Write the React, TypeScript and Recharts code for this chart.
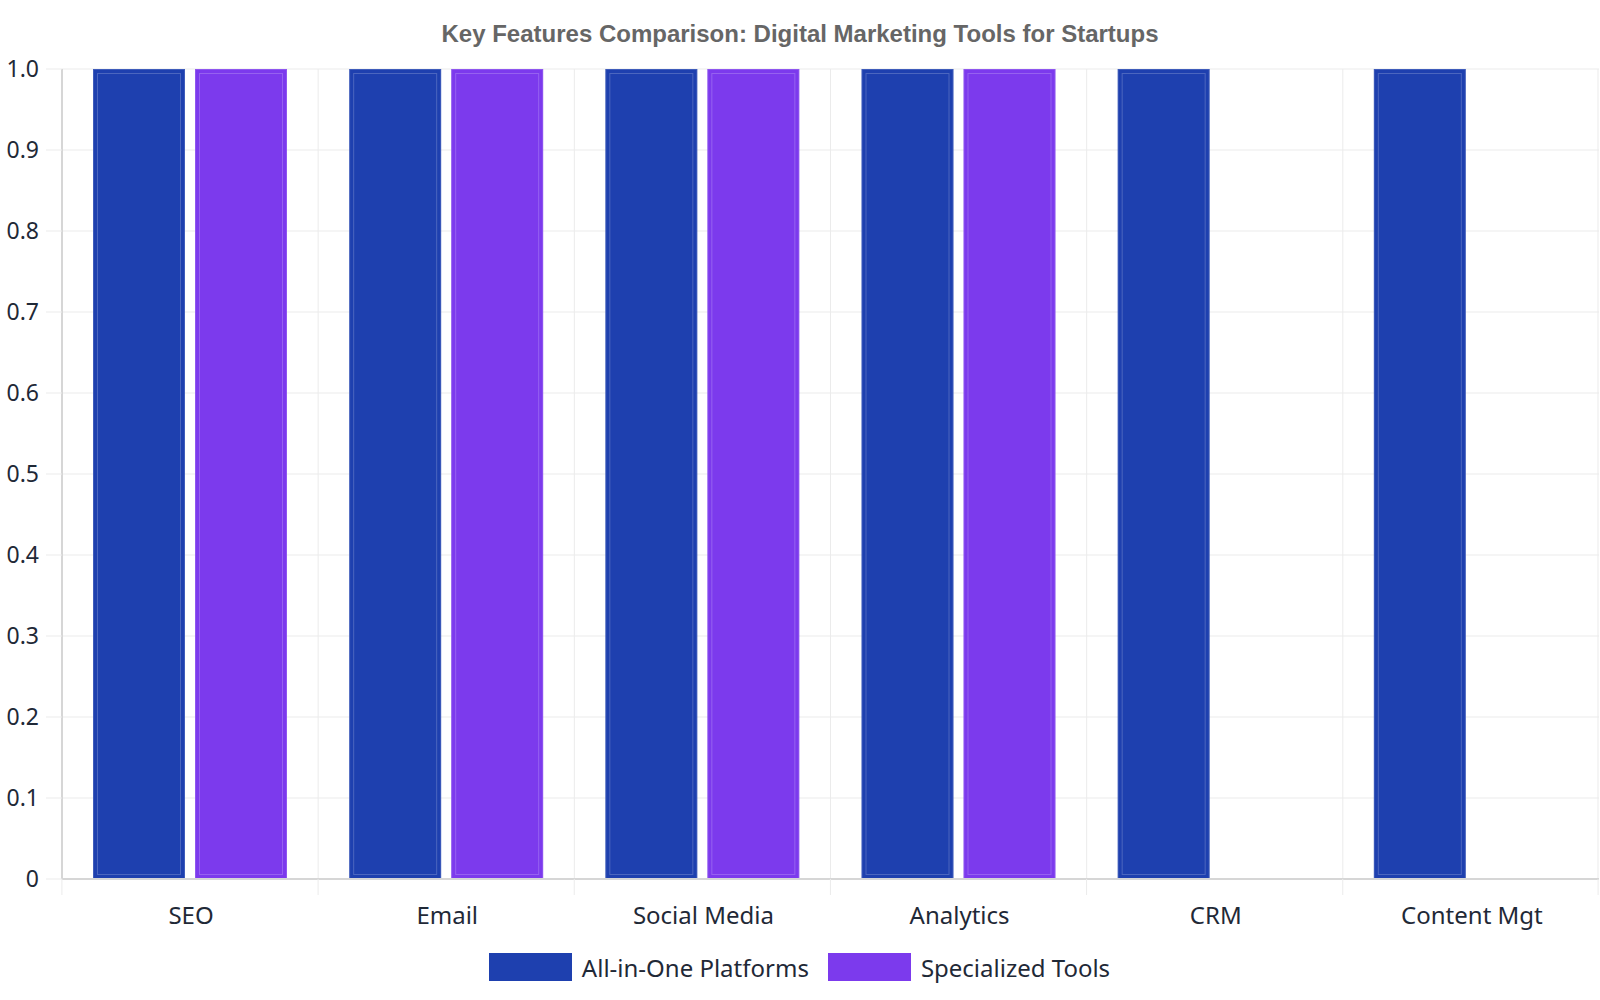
import React from "react";
import {
  BarChart, Bar, XAxis, YAxis, CartesianGrid, Legend
} from "recharts";

const CATEGORIES = ["SEO", "Email", "Social Media", "Analytics", "CRM", "Content Mgt"];
const ALL_IN_ONE = [1, 1, 1, 1, 1, 1];
const SPECIALIZED = [1, 1, 1, 1, 0, 0];
const Y_TICKS = [0, 0.1, 0.2, 0.3, 0.4, 0.5, 0.6, 0.7, 0.8, 0.9, 1.0];

const SERIES = [
  { key: "allInOne", label: "All-in-One Platforms", color: "#1e40af" },
  { key: "specialized", label: "Specialized Tools", color: "#7c3aed" },
];

const data = CATEGORIES.map((name, i) => ({
  name,
  allInOne: ALL_IN_ONE[i],
  specialized: SPECIALIZED[i],
}));

const FONT = "'Noto Sans', sans-serif";
const TEXT = "#1f2937";
const GRID = "#ebebeb";
const AXIS = "#d6d6d6";
const TICK_SIZE = 16;
const X_TICK_MARGIN = 12;

// bar with a faint inset outline
const BarShape = (props: any) => {
  const { x, y, width, height, fill } = props;
  if (!height || height <= 0) return null;
  return (
    <g>
      <rect x={x} y={y} width={width} height={height} fill={fill} />
      <rect
        x={x + 0.5} y={y + 0.5} width={width - 1} height={height - 1}
        fill="none" stroke="rgba(255,255,255,0.15)" strokeWidth={1}
      />
      <rect
        x={x + 4.5} y={y + 4.5} width={width - 9} height={height - 9}
        fill="none" stroke="rgba(255,255,255,0.2)" strokeWidth={1}
      />
    </g>
  );
};

const XTick = (props: any) => {
  const { x, y, payload, index } = props;
  const band = 1538 / CATEGORIES.length;
  const axisY = y - X_TICK_MARGIN - TICK_SIZE;
  const left = x - band / 2;
  const right = x + band / 2;
  return (
    <g>
      <line x1={left} x2={left} y1={axisY} y2={axisY + TICK_SIZE} stroke={GRID} />
      {index === CATEGORIES.length - 1 && (
        <line x1={right - 1} x2={right - 1} y1={axisY} y2={axisY + TICK_SIZE} stroke={GRID} />
      )}
      <text x={x + 1} y={y} dy="0.71em" textAnchor="middle" fill={TEXT}
        style={{ fontFamily: FONT, fontSize: 24 }}>
        {payload.value}
      </text>
    </g>
  );
};

const LegendContent = () => (
  <div style={{ display: "flex", justifyContent: "center", alignItems: "center", height: 40 }}>
    {SERIES.map((s, i) => (
      <div key={s.key} style={{ display: "flex", alignItems: "center", marginLeft: i ? 19 : 0 }}>
        <div style={{ width: 83, height: 28, background: s.color }} />
        <span style={{ marginLeft: 10, fontFamily: FONT, fontSize: 24, color: TEXT }}>
          {s.label}
        </span>
      </div>
    ))}
  </div>
);

export default function App() {
  return (
    <div style={{ position: "relative", width: 1600, height: 1000, background: "#fff" }}>
      <style>{"body{margin:0}"}</style>
      <div
        style={{
          position: "absolute", top: 20, left: 0, width: 1600, textAlign: "center",
          fontFamily: "'Liberation Sans', Arial, sans-serif", fontWeight: "bold",
          fontSize: 24, color: "#666", lineHeight: "28px",
        }}
      >
        Key Features Comparison: Digital Marketing Tools for Startups
      </div>
      <BarChart
        width={1600}
        height={1000}
        data={data}
        margin={{ top: 69, right: 1, bottom: 13, left: 0 }}
        barSize={92}
        barGap={10}
      >
        <CartesianGrid
          stroke={GRID}
          verticalCoordinatesGenerator={({ offset }: any) =>
            [...CATEGORIES.map((_, i) => offset.left + (i * offset.width) / CATEGORIES.length),
              offset.left + offset.width - 1]
          }
        />
        <XAxis
          dataKey="name"
          height={68}
          axisLine={{ stroke: AXIS, strokeWidth: 2 }}
          tickLine={false}
          tickSize={TICK_SIZE}
          tickMargin={X_TICK_MARGIN}
          tick={<XTick />}
          interval={0}
        />
        <YAxis
          width={62}
          domain={[0, 1]}
          ticks={Y_TICKS}
          axisLine={{ stroke: AXIS, strokeWidth: 2 }}
          tickLine={{ stroke: GRID }}
          tickSize={TICK_SIZE}
          tickMargin={7}
          tickFormatter={(v: number) => (v === 0 ? "0" : v.toFixed(1))}
          tick={{ fill: TEXT, fontSize: 23, fontFamily: FONT }}
        />
        <Legend verticalAlign="bottom" height={40} content={<LegendContent />} />
        {SERIES.map((s) => (
          <Bar
            key={s.key}
            dataKey={s.key}
            name={s.label}
            fill={s.color}
            shape={<BarShape />}
            isAnimationActive={false}
          />
        ))}
      </BarChart>
    </div>
  );
}
